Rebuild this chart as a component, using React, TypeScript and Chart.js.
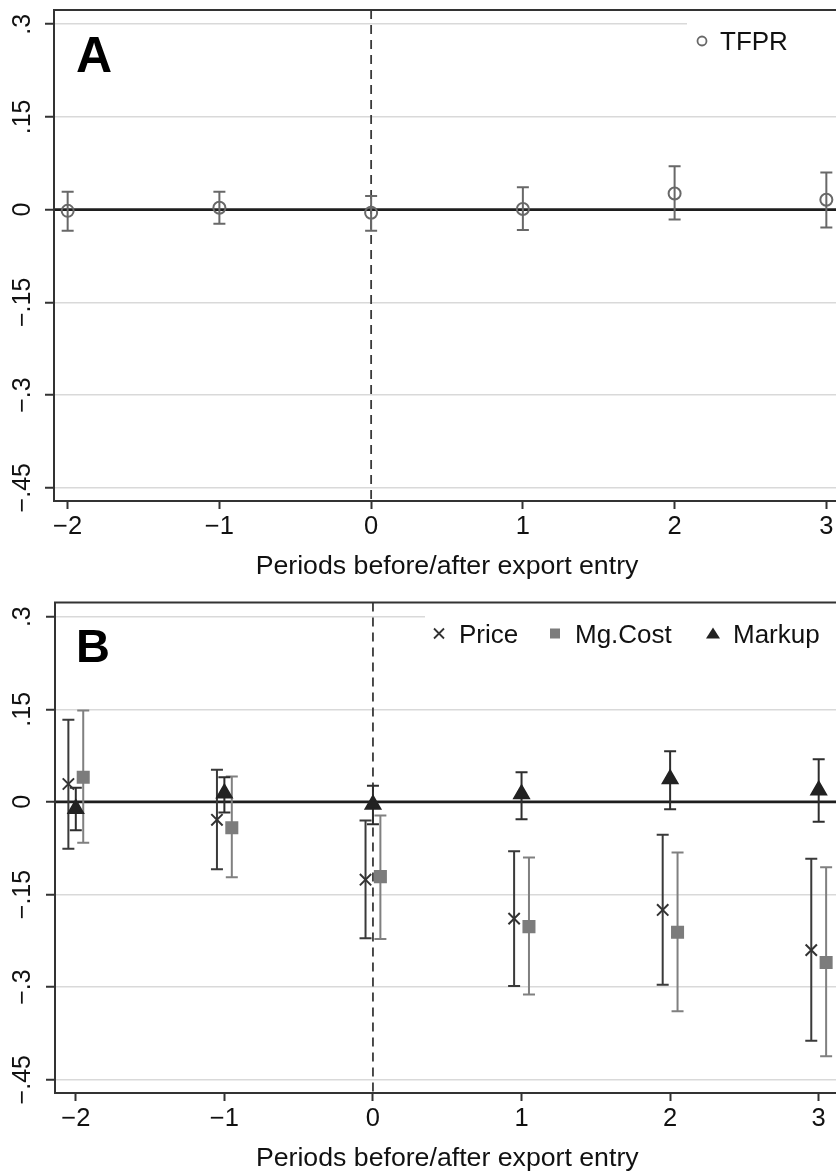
import React, { useEffect, useRef } from 'react';
import { Chart, registerables } from 'chart.js';

Chart.register(...registerables);

const FONT = '"Liberation Sans", Arial, Helvetica, sans-serif';

// ---- axes ----
const periods = [-2, -1, 0, 1, 2, 3];
const xTickValues = [-2, -1, 0, 1, 2, 3];
const xTickLabels = ['−2', '−1', '0', '1', '2', '3'];
const yTickValues = [-0.45, -0.3, -0.15, 0, 0.15, 0.3];
const yTickLabels = ['−.45', '−.3', '−.15', '0', '.15', '.3'];
const xAxisTitle = 'Periods before/after export entry';

// ---- panel A: TFPR ----
const tfpr = [-0.002, 0.003, -0.005, 0.001, 0.026, 0.016];
const tfprLo = [-0.034, -0.023, -0.034, -0.033, -0.016, -0.029];
const tfprHi = [0.029, 0.029, 0.022, 0.036, 0.07, 0.06];

// ---- panel B: Price, Mg.Cost, Markup ----
const price = [0.029, -0.029, -0.126, -0.189, -0.175, -0.24];
const priceLo = [-0.076, -0.109, -0.221, -0.298, -0.296, -0.387];
const priceHi = [0.133, 0.052, -0.03, -0.08, -0.053, -0.092];

const mgCost = [0.04, -0.042, -0.121, -0.202, -0.211, -0.26];
const mgCostLo = [-0.066, -0.122, -0.222, -0.312, -0.339, -0.412];
const mgCostHi = [0.148, 0.041, -0.022, -0.09, -0.082, -0.106];

const markup = [-0.011, 0.014, -0.004, 0.013, 0.037, 0.019];
const markupLo = [-0.046, -0.017, -0.036, -0.028, -0.012, -0.032];
const markupHi = [0.023, 0.04, 0.026, 0.048, 0.082, 0.069];

type Series = {
  label: string;
  values: number[];
  lo: number[];
  hi: number[];
  offset: number;
  style: 'circle' | 'crossRot' | 'rect' | 'triangle';
  color: string;
  fill: string;
  radius: number;
  barColor: string;
};

type LegendItem = { series: number; markerX: number; textX: number };

type PanelCfg = {
  letter: string;
  letterSize: number;
  letterBaseline: number;
  height: number;
  xMin: number;
  xMax: number;
  yAxisWidth: number;
  legendLeft: number;
  series: Series[];
  legend: LegendItem[];
};

const panels: PanelCfg[] = [
  {
    letter: 'A',
    letterSize: 50,
    letterBaseline: 72,
    height: 592,
    xMin: -2.09,
    xMax: 3.09,
    yAxisWidth: 54,
    legendLeft: 687,
    series: [
      { label: 'TFPR', values: tfpr, lo: tfprLo, hi: tfprHi, offset: 0, style: 'circle', color: '#686868', fill: 'rgba(0,0,0,0)', radius: 6, barColor: '#686868' },
    ],
    legend: [{ series: 0, markerX: 702, textX: 720 }],
  },
  {
    letter: 'B',
    letterSize: 47,
    letterBaseline: 70,
    height: 582,
    xMin: -2.14,
    xMax: 3.14,
    yAxisWidth: 55,
    legendLeft: 425,
    series: [
      { label: 'Price', values: price, lo: priceLo, hi: priceHi, offset: -0.05, style: 'crossRot', color: '#333333', fill: '#333333', radius: 8, barColor: '#3a3a3a' },
      { label: 'Mg.Cost', values: mgCost, lo: mgCostLo, hi: mgCostHi, offset: 0.05, style: 'rect', color: '#7c7c7c', fill: '#7c7c7c', radius: 7.8, barColor: '#808080' },
      { label: 'Markup', values: markup, lo: markupLo, hi: markupHi, offset: 0, style: 'triangle', color: '#222222', fill: '#222222', radius: 8.5, barColor: '#2e2e2e' },
    ],
    legend: [
      { series: 0, markerX: 439, textX: 459 },
      { series: 1, markerX: 555, textX: 575 },
      { series: 2, markerX: 713, textX: 733 },
    ],
  },
];

function drawLegendMarker(ctx: CanvasRenderingContext2D, s: Series, x: number, y: number) {
  ctx.save();
  ctx.strokeStyle = s.color;
  ctx.fillStyle = s.fill;
  ctx.lineWidth = 1.8;
  if (s.style === 'circle') {
    ctx.beginPath();
    ctx.arc(x, y, 4.5, 0, Math.PI * 2);
    ctx.stroke();
  } else if (s.style === 'crossRot') {
    const r = 5;
    ctx.beginPath();
    ctx.moveTo(x - r, y - r);
    ctx.lineTo(x + r, y + r);
    ctx.moveTo(x + r, y - r);
    ctx.lineTo(x - r, y + r);
    ctx.stroke();
  } else if (s.style === 'rect') {
    ctx.fillRect(x - 5, y - 5, 10, 10);
  } else {
    ctx.beginPath();
    ctx.moveTo(x, y - 6);
    ctx.lineTo(x + 7, y + 5);
    ctx.lineTo(x - 7, y + 5);
    ctx.closePath();
    ctx.fill();
  }
  ctx.restore();
}

function makePlugin(p: PanelCfg) {
  return {
    id: 'stataPanel' + p.letter,
    beforeDatasetsDraw(chart: any) {
      const { ctx, chartArea: a, scales } = chart;
      const x = scales.x;
      const y = scales.y;
      ctx.save();
      // zero line
      const y0 = y.getPixelForValue(0);
      ctx.strokeStyle = '#1e1e1e';
      ctx.lineWidth = 2.6;
      ctx.beginPath();
      ctx.moveTo(a.left, y0);
      ctx.lineTo(a.right, y0);
      ctx.stroke();
      // dashed vertical line at 0
      const x0 = x.getPixelForValue(0);
      ctx.strokeStyle = '#3a3a3a';
      ctx.lineWidth = 1.8;
      ctx.setLineDash([9, 6]);
      ctx.beginPath();
      ctx.moveTo(x0, a.top);
      ctx.lineTo(x0, a.bottom);
      ctx.stroke();
      ctx.setLineDash([]);
      // plot border
      ctx.strokeStyle = '#333';
      ctx.lineWidth = 2;
      ctx.strokeRect(a.left, a.top, a.right - a.left, a.bottom - a.top);
      // error bars
      p.series.forEach((s) => {
        ctx.strokeStyle = s.barColor;
        ctx.lineWidth = 2;
        periods.forEach((per, i) => {
          const px = x.getPixelForValue(per + s.offset);
          const pl = y.getPixelForValue(s.lo[i]);
          const ph = y.getPixelForValue(s.hi[i]);
          ctx.beginPath();
          ctx.moveTo(px, pl);
          ctx.lineTo(px, ph);
          ctx.moveTo(px - 6, pl);
          ctx.lineTo(px + 6, pl);
          ctx.moveTo(px - 6, ph);
          ctx.lineTo(px + 6, ph);
          ctx.stroke();
        });
      });
      ctx.restore();
    },
    afterDatasetsDraw(chart: any) {
      const { ctx, chartArea: a, scales } = chart;
      const y = scales.y;
      ctx.save();
      // legend box
      ctx.fillStyle = '#ffffff';
      ctx.fillRect(p.legendLeft, a.top + 2, chart.width - p.legendLeft, 56);
      ctx.font = `26px ${FONT}`;
      ctx.textBaseline = 'alphabetic';
      ctx.textAlign = 'left';
      p.legend.forEach((li) => {
        const s = p.series[li.series];
        drawLegendMarker(ctx, s, li.markerX, a.top + 31);
        ctx.fillStyle = '#111';
        ctx.fillText(s.label, li.textX, a.top + 40);
      });
      // panel letter
      ctx.fillStyle = '#000';
      ctx.font = `bold ${p.letterSize}px ${FONT}`;
      ctx.fillText(p.letter, 76, p.letterBaseline);
      // y tick labels (rotated)
      ctx.fillStyle = '#111';
      ctx.font = `25px ${FONT}`;
      ctx.textAlign = 'center';
      ctx.textBaseline = 'middle';
      yTickValues.forEach((v, i) => {
        const py = y.getPixelForValue(v);
        ctx.save();
        ctx.translate(23, py);
        ctx.rotate(-Math.PI / 2);
        ctx.fillText(yTickLabels[i], 0, 0);
        ctx.restore();
      });
      // x axis title
      ctx.font = `26.7px ${FONT}`;
      ctx.fillText(xAxisTitle, (a.left + a.right) / 2, a.bottom + 66);
      ctx.restore();
    },
  };
}

function Panel({ p }: { p: PanelCfg }) {
  const ref = useRef<HTMLCanvasElement>(null);
  useEffect(() => {
    if (!ref.current) return;
    const chart = new Chart(ref.current, {
      type: 'scatter',
      data: {
        datasets: p.series.map((s) => ({
          label: s.label,
          data: periods.map((per, i) => ({ x: per + s.offset, y: s.values[i] })),
          showLine: false,
          pointStyle: s.style,
          pointRadius: s.radius,
          pointBorderWidth: 2,
          pointBorderColor: s.color,
          pointBackgroundColor: s.fill,
        })),
      },
      options: {
        animation: false,
        responsive: false,
        devicePixelRatio: 1,
        events: [],
        layout: { padding: { top: 10, right: 10, left: 0, bottom: 0 } },
        plugins: { legend: { display: false }, tooltip: { enabled: false }, title: { display: false } },
        scales: {
          x: {
            type: 'linear',
            min: p.xMin,
            max: p.xMax,
            afterBuildTicks: (s: any) => {
              s.ticks = xTickValues.map((v) => ({ value: v }));
            },
            afterFit: (s: any) => {
              s.height = p.height - 501;
            },
            grid: { display: true, drawOnChartArea: false, drawTicks: true, tickLength: 8, tickColor: '#333', tickWidth: 2, color: '#333' },
            border: { display: false },
            ticks: {
              autoSkip: false,
              maxRotation: 0,
              minRotation: 0,
              padding: 3,
              color: '#111',
              font: { family: FONT, size: 25.5 },
              callback: (_v: any, i: number) => xTickLabels[i],
            },
          },
          y: {
            type: 'linear',
            min: -0.4715,
            max: 0.323,
            afterBuildTicks: (s: any) => {
              s.ticks = yTickValues.map((v) => ({ value: v }));
            },
            afterFit: (s: any) => {
              s.width = p.yAxisWidth;
            },
            grid: { color: '#d9d9d9', lineWidth: 1.5, drawTicks: true, tickLength: 9, tickColor: '#333', tickWidth: 2 },
            border: { display: false },
            ticks: { display: false },
          },
        },
      } as any,
      plugins: [makePlugin(p)],
    });
    return () => chart.destroy();
  }, [p]);
  return <canvas ref={ref} width={850} height={p.height} style={{ display: 'block', width: 850, height: p.height }} />;
}

export default function App() {
  return (
    <div style={{ position: 'absolute', left: 0, top: 0, width: 836, height: 1174, overflow: 'hidden', background: '#fff' }}>
      {panels.map((p) => (
        <Panel key={p.letter} p={p} />
      ))}
    </div>
  );
}
